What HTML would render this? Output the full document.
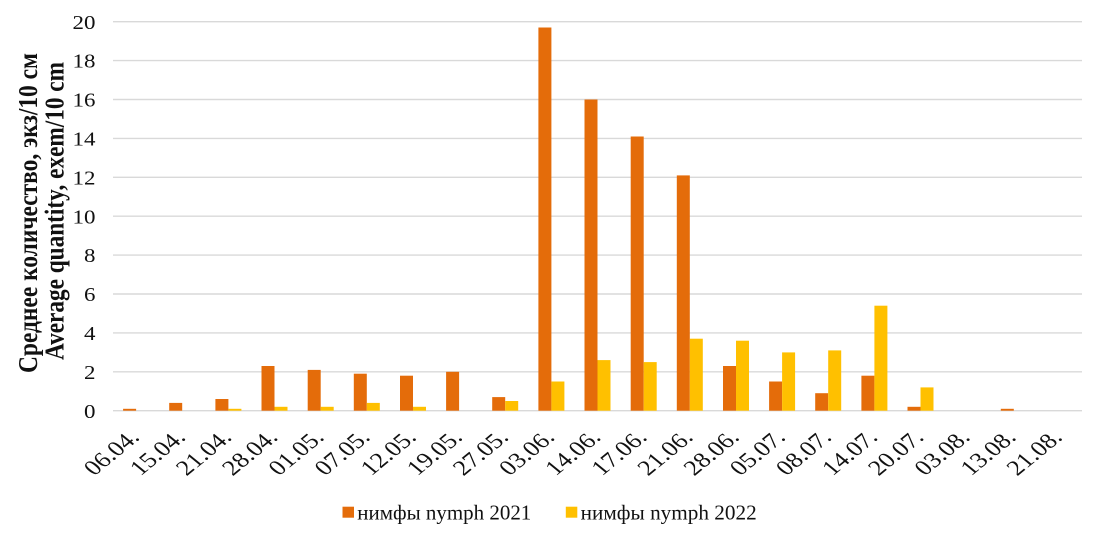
<!DOCTYPE html>
<html>
<head>
<meta charset="utf-8">
<style>
  html, body { margin: 0; padding: 0; background: #ffffff; }
  svg { display: block; }
  text { font-family: "Liberation Serif", "Times New Roman", serif; fill: #111; }
</style>
</head>
<body>
<svg width="1103" height="535" viewBox="0 0 1103 535" xmlns="http://www.w3.org/2000/svg">
  <rect x="0" y="0" width="1103" height="535" fill="#ffffff"/>

  <!-- gridlines -->
  <g stroke="#d9d9d9" stroke-width="1.4">
    <line x1="113" y1="21.7" x2="1082" y2="21.7"/>
    <line x1="113" y1="60.6" x2="1082" y2="60.6"/>
    <line x1="113" y1="99.5" x2="1082" y2="99.5"/>
    <line x1="113" y1="138.4" x2="1082" y2="138.4"/>
    <line x1="113" y1="177.3" x2="1082" y2="177.3"/>
    <line x1="113" y1="216.2" x2="1082" y2="216.2"/>
    <line x1="113" y1="255.1" x2="1082" y2="255.1"/>
    <line x1="113" y1="294.0" x2="1082" y2="294.0"/>
    <line x1="113" y1="332.9" x2="1082" y2="332.9"/>
    <line x1="113" y1="371.8" x2="1082" y2="371.8"/>
    <line x1="113" y1="410.7" x2="1082" y2="410.7"/>
  </g>

  <!-- y tick labels -->
  <g font-size="20.5">
    <text transform="translate(95.5,28.8) scale(1.12,1)" text-anchor="end">20</text>
    <text transform="translate(95.5,67.7) scale(1.12,1)" text-anchor="end">18</text>
    <text transform="translate(95.5,106.6) scale(1.12,1)" text-anchor="end">16</text>
    <text transform="translate(95.5,145.5) scale(1.12,1)" text-anchor="end">14</text>
    <text transform="translate(95.5,184.4) scale(1.12,1)" text-anchor="end">12</text>
    <text transform="translate(95.5,223.3) scale(1.12,1)" text-anchor="end">10</text>
    <text transform="translate(95.5,262.2) scale(1.12,1)" text-anchor="end">8</text>
    <text transform="translate(95.5,301.1) scale(1.12,1)" text-anchor="end">6</text>
    <text transform="translate(95.5,340.0) scale(1.12,1)" text-anchor="end">4</text>
    <text transform="translate(95.5,378.9) scale(1.12,1)" text-anchor="end">2</text>
    <text transform="translate(95.5,417.8) scale(1.12,1)" text-anchor="end">0</text>
  </g>

  <!-- y axis title -->
  <text transform="translate(37,213) scale(1.14,1) rotate(-90)" text-anchor="middle" font-size="24.5" font-weight="bold" textLength="320" lengthAdjust="spacingAndGlyphs">Среднее количество, экз/10 см</text>
  <text transform="translate(63.5,211) scale(1.14,1) rotate(-90)" text-anchor="middle" font-size="24.5" font-weight="bold" textLength="298" lengthAdjust="spacingAndGlyphs">Average quantity, exem/10 cm</text>

  <!-- bars: 2021 (orange) -->
  <g fill="#E46C0A">
    <rect x="123.1" y="408.8" width="13" height="1.9"/>
    <rect x="169.2" y="402.9" width="13" height="7.8"/>
    <rect x="215.4" y="399.0" width="13" height="11.7"/>
    <rect x="261.5" y="366.0" width="13" height="44.7"/>
    <rect x="307.7" y="369.9" width="13" height="40.8"/>
    <rect x="353.8" y="373.7" width="13" height="37.0"/>
    <rect x="400.0" y="375.7" width="13" height="35.0"/>
    <rect x="446.1" y="371.8" width="13" height="38.9"/>
    <rect x="492.2" y="397.1" width="13" height="13.6"/>
    <rect x="538.4" y="27.5" width="13" height="383.2"/>
    <rect x="584.5" y="99.5" width="13" height="311.2"/>
    <rect x="630.7" y="136.5" width="13" height="274.2"/>
    <rect x="676.8" y="175.4" width="13" height="235.3"/>
    <rect x="723.0" y="366.0" width="13" height="44.7"/>
    <rect x="769.1" y="381.5" width="13" height="29.2"/>
    <rect x="815.2" y="393.2" width="13" height="17.5"/>
    <rect x="861.4" y="375.7" width="13" height="35.0"/>
    <rect x="907.5" y="406.8" width="13" height="3.9"/>
    <rect x="1000.8" y="408.8" width="13" height="1.9"/>
  </g>

  <!-- bars: 2022 (yellow) -->
  <g fill="#FFC000">
    <rect x="228.4" y="408.8" width="13" height="1.9"/>
    <rect x="274.5" y="406.8" width="13" height="3.9"/>
    <rect x="320.7" y="406.8" width="13" height="3.9"/>
    <rect x="366.8" y="402.9" width="13" height="7.8"/>
    <rect x="413.0" y="406.8" width="13" height="3.9"/>
    <rect x="505.2" y="401.0" width="13" height="9.7"/>
    <rect x="551.4" y="381.5" width="13" height="29.2"/>
    <rect x="597.5" y="360.1" width="13" height="50.6"/>
    <rect x="643.7" y="362.1" width="13" height="48.6"/>
    <rect x="689.8" y="338.7" width="13" height="72.0"/>
    <rect x="736.0" y="340.7" width="13" height="70.0"/>
    <rect x="782.1" y="352.4" width="13" height="58.3"/>
    <rect x="828.2" y="350.4" width="13" height="60.3"/>
    <rect x="874.4" y="305.7" width="13" height="105.0"/>
    <rect x="920.5" y="387.4" width="13" height="23.3"/>
  </g>

  <!-- x labels -->
  <g font-size="21.5" text-anchor="end">
    <text transform="translate(140.6,438.5) scale(1.22,1) rotate(-45)">06.04.</text>
    <text transform="translate(186.7,438.5) scale(1.22,1) rotate(-45)">15.04.</text>
    <text transform="translate(232.9,438.5) scale(1.22,1) rotate(-45)">21.04.</text>
    <text transform="translate(279.0,438.5) scale(1.22,1) rotate(-45)">28.04.</text>
    <text transform="translate(325.2,438.5) scale(1.22,1) rotate(-45)">01.05.</text>
    <text transform="translate(371.3,438.5) scale(1.22,1) rotate(-45)">07.05.</text>
    <text transform="translate(417.5,438.5) scale(1.22,1) rotate(-45)">12.05.</text>
    <text transform="translate(463.6,438.5) scale(1.22,1) rotate(-45)">19.05.</text>
    <text transform="translate(509.7,438.5) scale(1.22,1) rotate(-45)">27.05.</text>
    <text transform="translate(555.9,438.5) scale(1.22,1) rotate(-45)">03.06.</text>
    <text transform="translate(602.0,438.5) scale(1.22,1) rotate(-45)">14.06.</text>
    <text transform="translate(648.2,438.5) scale(1.22,1) rotate(-45)">17.06.</text>
    <text transform="translate(694.3,438.5) scale(1.22,1) rotate(-45)">21.06.</text>
    <text transform="translate(740.5,438.5) scale(1.22,1) rotate(-45)">28.06.</text>
    <text transform="translate(786.6,438.5) scale(1.22,1) rotate(-45)">05.07.</text>
    <text transform="translate(832.7,438.5) scale(1.22,1) rotate(-45)">08.07.</text>
    <text transform="translate(878.9,438.5) scale(1.22,1) rotate(-45)">14.07.</text>
    <text transform="translate(925.0,438.5) scale(1.22,1) rotate(-45)">20.07.</text>
    <text transform="translate(971.2,438.5) scale(1.22,1) rotate(-45)">03.08.</text>
    <text transform="translate(1017.3,438.5) scale(1.22,1) rotate(-45)">13.08.</text>
    <text transform="translate(1063.5,438.5) scale(1.22,1) rotate(-45)">21.08.</text>
  </g>

  <!-- legend -->
  <rect x="342.5" y="506.7" width="11.5" height="11" fill="#E46C0A"/>
  <text x="357.3" y="519.3" font-size="21" textLength="174" lengthAdjust="spacingAndGlyphs">нимфы nymph 2021</text>
  <rect x="565.8" y="506.7" width="11.5" height="11" fill="#FFC000"/>
  <text x="580.7" y="519.3" font-size="21" textLength="176" lengthAdjust="spacingAndGlyphs">нимфы nymph 2022</text>
</svg>
</body>
</html>
